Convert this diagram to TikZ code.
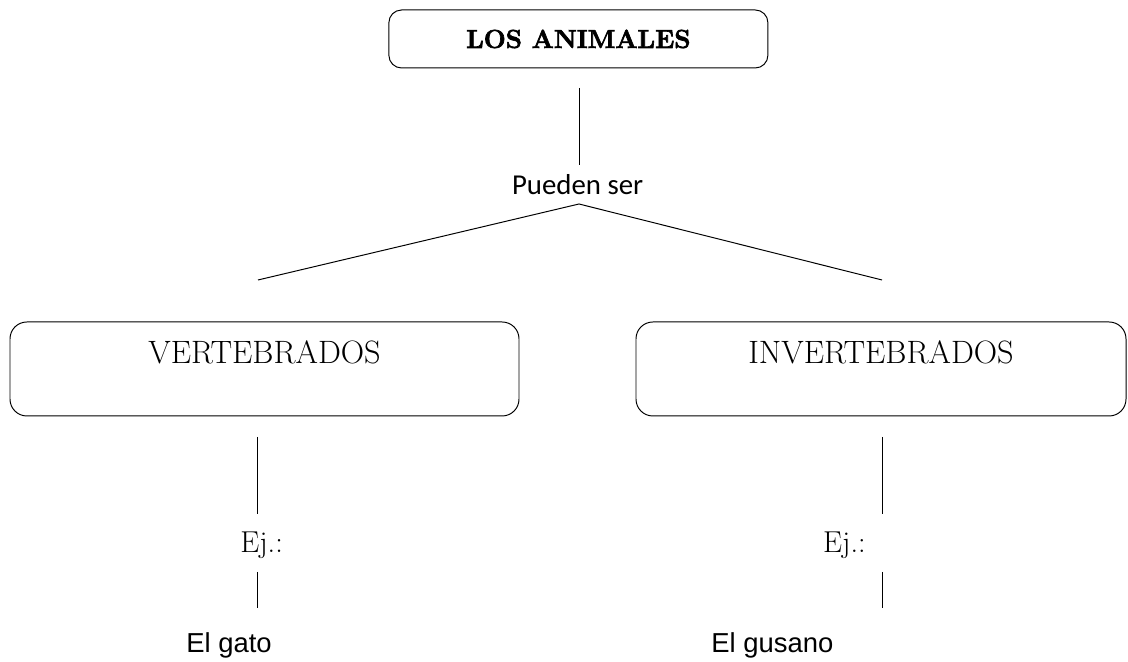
\documentclass[tikz,border=0pt]{standalone}
\usepackage{fontspec}
\newfontfamily\calibri{Carlito}
\newfontfamily\arial{Liberation Sans}
\newfontfamily\gruesa[BoldFeatures={FakeBold=2.5}]{Latin Modern Roman}
\begin{document}
\begin{tikzpicture}[line width=0.7pt,every node/.style={inner sep=0pt},
  titulo/.style={draw,rounded corners=9pt,minimum width=9.475cm,minimum height=1.45cm,font=\gruesa\fontsize{18.5}{22}\selectfont\bfseries},
  caja/.style={draw,rounded corners=12pt,minimum width=#1,inner ysep=0.3cm,text height=0.75cm,text depth=1.0cm,font=\fontsize{23}{26}\selectfont},
  ejemplo/.style={anchor=base,font=\fontsize{21.5}{24}\selectfont},
  animal/.style={anchor=base,font=\arial\fontsize{19.5}{22}\selectfont}]
\useasboundingbox (0,0) rectangle (28.2,16.55);
\node[titulo] (animales) at (14.46,15.575) {LOS ANIMALES};
\coordinate (t1) at (14.475,14.35);
\coordinate (t2) at (14.475,12.425);
\draw (t1) -- (t2);
\node[anchor=base,font=\calibri\fontsize{20.5}{24}\selectfont] (pueden) at (14.44,11.675) {Pueden ser};
\coordinate (vtop) at (14.475,11.45);
\coordinate (vizq) at (6.45,9.55);
\coordinate (vder) at (22.05,9.55);
\draw (vizq) -- (vtop) -- (vder);
\node[caja=12.725cm] (vert) at (6.6125,7.325) {VERTEBRADOS};
\node[caja=12.25cm] (invert) at (22.025,7.325) {INVERTEBRADOS};
% vertebrados
\coordinate (v1) at (6.425,5.625);
\coordinate (v2) at (6.425,3.7);
\coordinate (v3) at (6.425,2.25);
\coordinate (v4) at (6.425,1.35);
\draw (v1) -- (v2);
\node[ejemplo] (ejv) at (6.54,2.725) {Ej.:};
\draw (v3) -- (v4);
\node[animal] (gato) at (5.725,0.225) {El gato};
% invertebrados
\coordinate (i1) at (22.05,5.625);
\coordinate (i2) at (22.05,3.7);
\coordinate (i3) at (22.05,2.25);
\coordinate (i4) at (22.05,1.35);
\draw (i1) -- (i2);
\node[ejemplo] (eji) at (21.11,2.725) {Ej.:};
\draw (i3) -- (i4);
\node[animal] (gusano) at (19.31,0.225) {El gusano};
\end{tikzpicture}
\end{document}
